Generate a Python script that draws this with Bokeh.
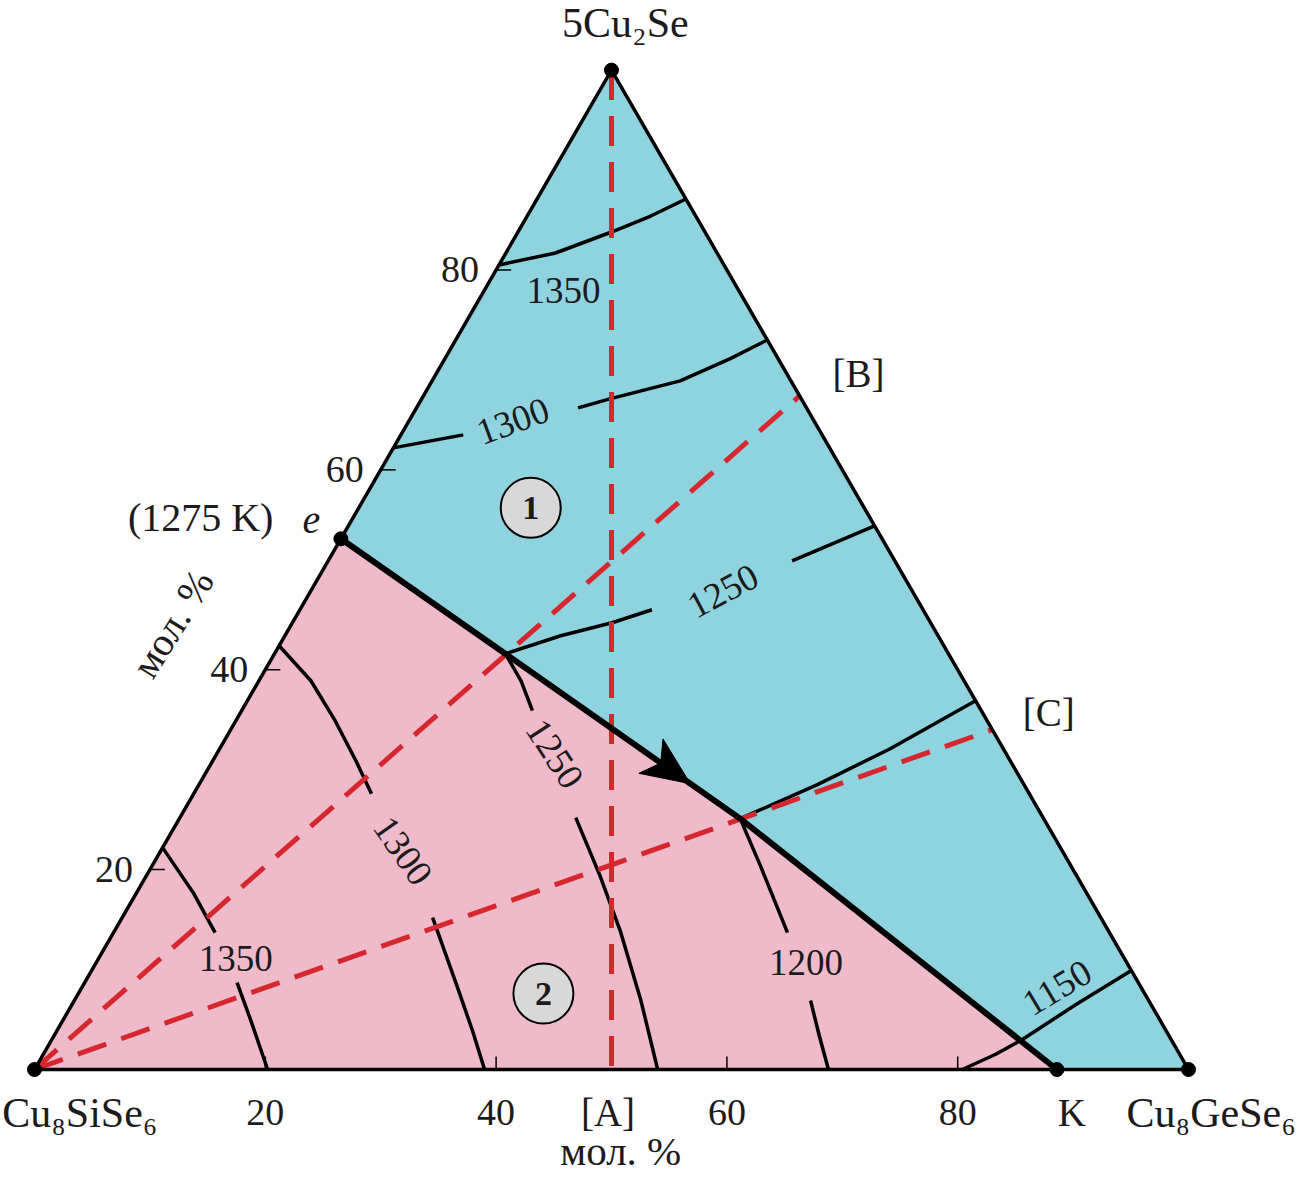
import numpy as np
from bokeh.plotting import figure
from bokeh.models import Range1d
from bokeh.core.properties import value
from bokeh.embed import file_html
from bokeh.resources import INLINE

# ---------------- data (compositions in mol. %: Cu8GeSe6 %, 5Cu2Se %) ----------------
vertex_names = ["Cu₈SiSe₆", "Cu₈GeSe₆", "5Cu₂Se"]
vertex_ge = [0.0, 100.0, 0.0]
vertex_cu = [0.0, 0.0, 100.0]

tick_values = [20, 40, 60, 80]
tick_labels = ["20", "40", "60", "80"]

# special points
e_ge, e_cu = 0.0, 53.1          # e (1275 K)
K_ge, K_cu = 88.6, 0.0          # K
P1_ge, P1_cu = 20.0, 41.6       # section [B] meets boundary
P2_ge, P2_cu = 48.6, 25.1       # section [C] meets boundary
A_ge, A_cu = 50.0, 0.0          # [A]
B_ge, B_cu = 32.6, 67.4         # [B]
C_ge, C_cu = 66.0, 34.0         # [C]

# boundary curve e -> K
boundary_ge = [e_ge, P1_ge, P2_ge, K_ge]
boundary_cu = [e_cu, P1_cu, P2_cu, K_cu]

# isotherms (pieces, interrupted at labels)
iso_1350_f1_ge = [0.0, 4.3, 8.1, 10.7, 12.9]
iso_1350_f1_cu = [80.5, 81.7, 83.8, 85.4, 87.1]
iso_1300_f1a_ge = [0.0, 5.4]
iso_1300_f1a_cu = [62.2, 63.5]
iso_1300_f1b_ge = [14.0, 16.3, 21.5, 24.7, 27.0]
iso_1300_f1b_cu = [66.2, 67.1, 68.9, 71.1, 73.0]
iso_1250_f1a_ge = [20.0, 23.9, 27.7, 30.5]
iso_1250_f1a_cu = [41.6, 43.4, 44.7, 46.0]
iso_1250_f1b_ge = [40.2, 45.6]
iso_1250_f1b_cu = [50.9, 54.4]
iso_1200_f1_ge = [48.6, 53.6, 58.1, 63.1]
iso_1200_f1_cu = [25.1, 28.5, 32.1, 36.9]
iso_1150_ge = [80.4, 82.5, 84.1, 87.0, 90.1]
iso_1150_cu = [0.0, 1.5, 3.0, 6.5, 9.9]

iso_1350_f2a_ge = [0.0, 5.0, 8.8]
iso_1350_f2a_cu = [22.2, 17.6, 13.7]
iso_1350_f2b_ge = [13.2, 16.3, 20.2]
iso_1350_f2b_cu = [8.7, 4.9, 0.0]
iso_1300_f2a_ge = [0.0, 4.5, 8.6, 12.4, 15.4]
iso_1300_f2a_cu = [42.4, 38.9, 34.9, 30.9, 27.6]
iso_1300_f2b_ge = [26.9, 32.4, 36.0, 39.0]
iso_1300_f2b_cu = [15.2, 8.4, 3.9, 0.0]
iso_1250_f2a_ge = [20.0, 22.7, 25.2]
iso_1250_f2a_cu = [41.6, 38.9, 35.9]
iso_1250_f2b_ge = [34.3, 39.3, 43.8, 49.1, 54.0]
iso_1250_f2b_cu = [25.2, 19.4, 13.9, 6.9, 0.0]
iso_1200_f2a_ge = [48.6, 52.7, 58.4]
iso_1200_f2a_cu = [25.1, 20.4, 13.7]
iso_1200_f2b_ge = [63.8, 66.3, 68.8]
iso_1200_f2b_cu = [6.9, 3.4, 0.0]

iso_label_text = ["1350", "1300", "1250", "1150", "1350", "1300", "1250", "1200"]
iso_label_ge = [6.9, 9.0, 35.7, 84.5, 11.9, 21.0, 29.3, 61.5]
iso_label_cu = [77.9, 64.9, 47.9, 8.2, 11.1, 21.9, 31.6, 10.7]
iso_label_angle = [0, 20, 28, 31, 0, -55, -57, 0]

field_text = ["1", "2"]
field_ge = [14.9, 40.3]
field_cu = [56.2, 7.6]

S3 = np.sqrt(3) / 2


def tx(ge, cu):
    ge = np.asarray(ge, float)
    cu = np.asarray(cu, float)
    return ge + cu / 2.0


def ty(ge, cu):
    return np.asarray(cu, float) * S3


PX = 11.54  # screen px per composition unit
W, H = 1296, 1176
X0, Y0 = 34.0, 1069.0  # screen position of the Cu8SiSe6 corner
p = figure(width=W, height=H, output_backend="svg", toolbar_location=None,
           x_range=Range1d(-X0 / PX, (W - X0) / PX), y_range=Range1d((Y0 - H) / PX, Y0 / PX),
           min_border=0, background_fill_color="white", border_fill_color="white")
p.axis.visible = False
p.grid.visible = False
p.outline_line_color = None

BLUE = "#8fd3df"
PINK = "#efbaca"
RED = "#d6262e"
FONT = value("Liberation Serif")
TXT = "#1c1a1b"

# fields
pink_ge = [vertex_ge[0], e_ge, P1_ge, P2_ge, K_ge]
pink_cu = [vertex_cu[0], e_cu, P1_cu, P2_cu, K_cu]
blue_ge = [e_ge, vertex_ge[2], vertex_ge[1], K_ge, P2_ge, P1_ge]
blue_cu = [e_cu, vertex_cu[2], vertex_cu[1], K_cu, P2_cu, P1_cu]
p.patch(tx(pink_ge, pink_cu), ty(pink_ge, pink_cu), fill_color=PINK, line_color=None)
p.patch(tx(blue_ge, blue_cu), ty(blue_ge, blue_cu), fill_color=BLUE, line_color=None)

# isotherms
pieces = [
    (iso_1350_f1_ge, iso_1350_f1_cu), (iso_1300_f1a_ge, iso_1300_f1a_cu),
    (iso_1300_f1b_ge, iso_1300_f1b_cu), (iso_1250_f1a_ge, iso_1250_f1a_cu),
    (iso_1250_f1b_ge, iso_1250_f1b_cu), (iso_1200_f1_ge, iso_1200_f1_cu),
    (iso_1150_ge, iso_1150_cu),
    (iso_1350_f2a_ge, iso_1350_f2a_cu), (iso_1350_f2b_ge, iso_1350_f2b_cu),
    (iso_1300_f2a_ge, iso_1300_f2a_cu), (iso_1300_f2b_ge, iso_1300_f2b_cu),
    (iso_1250_f2a_ge, iso_1250_f2a_cu), (iso_1250_f2b_ge, iso_1250_f2b_cu),
    (iso_1200_f2a_ge, iso_1200_f2a_cu), (iso_1200_f2b_ge, iso_1200_f2b_cu),
]
p.multi_line([list(tx(g, c)) for g, c in pieces], [list(ty(g, c)) for g, c in pieces],
             line_color="black", line_width=3.5, line_join="round")

# red dashed sections
sections = [
    ([vertex_ge[2], A_ge], [vertex_cu[2], A_cu]),
    ([vertex_ge[0], B_ge], [vertex_cu[0], B_cu]),
    ([vertex_ge[0], C_ge], [vertex_cu[0], C_cu]),
]
for g, c in sections:
    p.line(tx(g, c), ty(g, c), line_color=RED, line_width=5, line_dash="30 16")

# triangle outline
tri_ge = vertex_ge + [vertex_ge[0]]
tri_cu = vertex_cu + [vertex_cu[0]]
p.line(tx(tri_ge, tri_cu), ty(tri_ge, tri_cu), line_color="black", line_width=3.5)

# boundary
p.line(tx(boundary_ge, boundary_cu), ty(boundary_ge, boundary_cu), line_color="black",
       line_width=6, line_join="round")

# arrow head on boundary (pointing towards K), built from the boundary direction
f_tip = 0.875
tip_x = float(tx(e_ge + f_tip * (P2_ge - e_ge), e_cu + f_tip * (P2_cu - e_cu)))
tip_y = float(ty(e_ge + f_tip * (P2_ge - e_ge), e_cu + f_tip * (P2_cu - e_cu)))
dx = float(tx(P2_ge, P2_cu) - tx(e_ge, e_cu))
dy = float(ty(P2_ge, P2_cu) - ty(e_ge, e_cu))
nrm = np.hypot(dx, dy)
ux, uy = dx / nrm, dy / nrm
vx, vy = -uy, ux
L, HW, N = 48 / PX, 21 / PX, 12 / PX
head_x = [tip_x, tip_x - L * ux + HW * vx, tip_x - (L - N) * ux, tip_x - L * ux - HW * vx]
head_y = [tip_y, tip_y - L * uy + HW * vy, tip_y - (L - N) * uy, tip_y - L * uy - HW * vy]
p.patch(head_x, head_y, fill_color="black", line_color="black", line_width=1)

# ticks
tk = 13 / PX
bx = np.array(tick_values, float)
p.segment(bx, np.zeros(4), bx, np.full(4, tk), line_color="black", line_width=1.5)
lx = tx(np.zeros(4), tick_values)
ly = ty(np.zeros(4), tick_values)
p.segment(lx, ly, lx + 15 / PX, ly, line_color="black", line_width=1.5)

# tick labels
p.text(bx, np.full(4, -3.73), text=tick_labels, text_font=FONT, text_font_size="38px",
       text_align="center", text_baseline="middle", text_color=TXT)
p.text(lx - 17 / PX, ly, text=tick_labels, text_font=FONT, text_font_size="38px",
       text_align="right", text_baseline="middle", text_color=TXT)

# dots
dot_ge = vertex_ge + [e_ge, K_ge]
dot_cu = vertex_cu + [e_cu, K_cu]
p.scatter(tx(dot_ge, dot_cu), ty(dot_ge, dot_cu), size=14, color="black")

# isotherm labels
p.text(tx(iso_label_ge, iso_label_cu), ty(iso_label_ge, iso_label_cu), text=iso_label_text,
       angle=iso_label_angle, angle_units="deg", text_font=FONT, text_font_size="37px",
       text_align="center", text_baseline="middle", text_color=TXT)

# field markers
fx, fy = tx(field_ge, field_cu), ty(field_ge, field_cu)
p.scatter(fx, fy, size=60, fill_color="#d8d8d8", line_color="black", line_width=2)
p.text(fx, fy, text=field_text, text_font=FONT, text_font_size="34px", text_font_style="bold",
       text_align="center", text_baseline="middle", text_color=TXT)

# outer labels
p.text([51.2], [90.7], text=[vertex_names[2]], text_font=FONT, text_font_size="42px",
       text_align="center", text_baseline="middle", text_color=TXT)
p.text([-2.8], [-3.73], text=[vertex_names[0]], text_font=FONT, text_font_size="42px",
       text_align="left", text_baseline="middle", text_color=TXT)
p.text([109.3], [-3.73], text=[vertex_names[1]], text_font=FONT, text_font_size="42px",
       text_align="right", text_baseline="middle", text_color=TXT)
p.text([49.7, 89.9, 71.4, 87.9], [-3.73, -3.73, 60.3, 30.9],
       text=["[A]", "K", "[B]", "[C]"], text_font=FONT, text_font_size="39px",
       text_align="center", text_baseline="middle", text_color=TXT)
p.text([14.4], [47.8], text=["(1275 K)"], text_font=FONT, text_font_size="40px",
       text_align="center", text_baseline="middle", text_color=TXT)
p.text([24.0], [47.6], text=["e"], text_font=FONT, text_font_size="40px", text_font_style="italic",
       text_align="center", text_baseline="middle", text_color=TXT)
p.text([50.8], [-7.1], text=["мол. %"], text_font=FONT, text_font_size="41px",
       text_align="center", text_baseline="middle", text_color=TXT)
p.text([11.96], [38.65], text=["мол. %"], angle=58, angle_units="deg", text_font=FONT,
       text_font_size="40px", text_align="center", text_baseline="middle", text_color=TXT)

open("out.html", "w").write(file_html(p, INLINE))
